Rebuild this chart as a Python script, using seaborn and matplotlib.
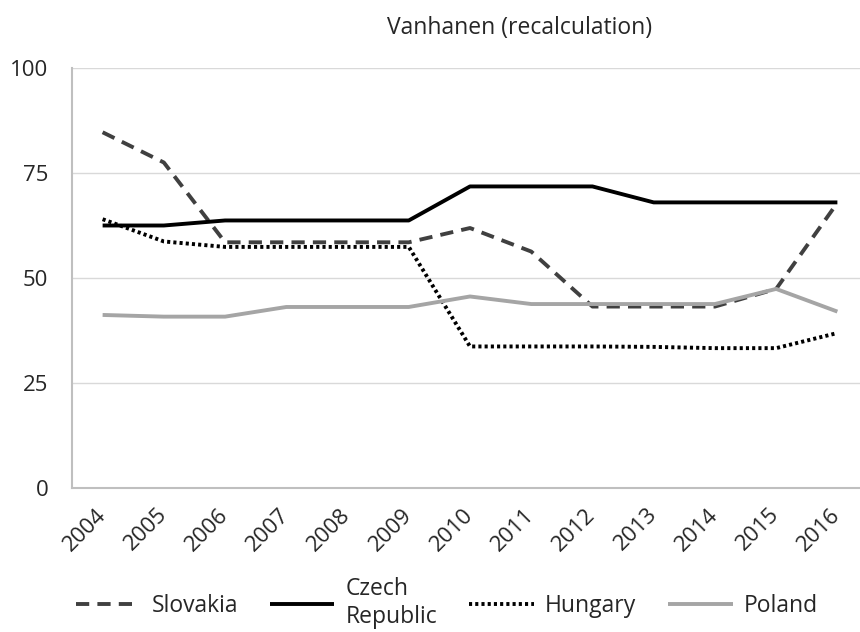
import pandas as pd
import seaborn as sns
import matplotlib.pyplot as plt

# Values
years = [2004, 2005, 2006, 2007, 2008, 2009, 2010, 2011, 2012, 2013, 2014, 2015, 2016]
slovakia = [84.7, 77.5, 58.5, 58.5, 58.5, 58.5, 61.9, 56.3, 43.2, 43.2, 43.2, 47.4, 67.9]
czech = [62.5, 62.5, 63.7, 63.7, 63.7, 63.7, 71.8, 71.8, 71.8, 68.0, 68.0, 68.0, 68.0]
hungary = [64.0, 58.7, 57.4, 57.4, 57.4, 57.4, 33.7, 33.7, 33.7, 33.6, 33.3, 33.3, 36.9]
poland = [41.2, 40.8, 40.8, 43.1, 43.1, 43.1, 45.6, 43.8, 43.8, 43.8, 43.8, 47.4, 42.0]
y_ticks = [0, 25, 50, 75, 100]

sns.set_theme(style="white")
plt.rcParams['font.family'] = ['Open Sans', 'DejaVu Sans']

df = pd.DataFrame({
    'year': years * 4,
    'value': slovakia + czech + hungary + poland,
    'country': ['Slovakia'] * 13 + ['Czech\nRepublic'] * 13 + ['Hungary'] * 13 + ['Poland'] * 13,
})

styles = {
    'Slovakia': dict(color='#404040', linestyle=(0, (3.4, 2.1))),
    'Czech\nRepublic': dict(color='#000000', linestyle='-'),
    'Hungary': dict(color='#000000', linestyle=(0, (0.8, 0.8))),
    'Poland': dict(color='#a5a5a5', linestyle='-'),
}

fig = plt.figure(figsize=(8.6, 6.32), dpi=100)
ax = fig.add_axes([72 / 860, 1 - 488 / 632, 796 / 860, 420 / 632])

for name, st in styles.items():
    sub = df[df['country'] == name]
    sns.lineplot(data=sub, x='year', y='value', ax=ax, label=name,
                 linewidth=2.8, solid_capstyle='butt', **st)

ax.set_xlim(2003.5, 2016.5)
ax.set_ylim(0, 100)
ax.set_yticks(y_ticks)
ax.set_xticks(years)
ax.set_xticklabels([str(y) for y in years], rotation=45, ha='right',
                   va='center', rotation_mode='anchor')
ax.tick_params(axis='x', length=0, pad=17, labelsize=16)
ax.tick_params(axis='y', length=0, pad=17, labelsize=16)
ax.yaxis.grid(True, color='#d9d9d9', linewidth=1)
ax.set_xlabel('')
ax.set_ylabel('')
for side in ['top', 'right']:
    ax.spines[side].set_visible(False)
for side in ['left', 'bottom']:
    ax.spines[side].set_color('#bfbfbf')
    ax.spines[side].set_linewidth(1.5)

fig.text(520 / 860, 1 - 28 / 632, 'Vanhanen (recalculation)', ha='center',
         va='center', fontsize=16.5)

ax.legend(loc='center', bbox_to_anchor=(447 / 860, 1 - 603 / 632),
          bbox_transform=fig.transFigure, ncol=4, frameon=False,
          fontsize=16.5, handlelength=2.8, handletextpad=0.5, columnspacing=1.4)

fig.savefig('out.png', dpi=100)
